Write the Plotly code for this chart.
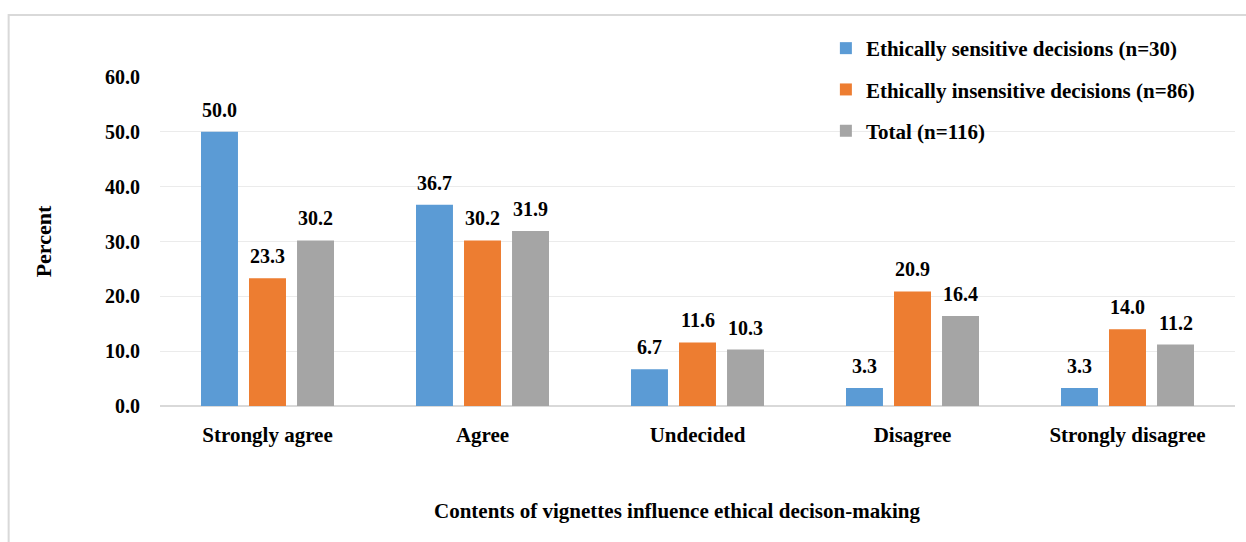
import plotly.graph_objects as go

# Survey response categories and percentages per group
categories = ["Strongly agree", "Agree", "Undecided", "Disagree", "Strongly disagree"]
sensitive = [50.0, 36.7, 6.7, 3.3, 3.3]
insensitive = [23.3, 30.2, 11.6, 20.9, 14.0]
total = [30.2, 31.9, 10.3, 16.4, 11.2]

series_names = [
    "Ethically sensitive decisions (n=30)",
    "Ethically insensitive decisions (n=86)",
    "Total (n=116)",
]
series_values = [sensitive, insensitive, total]
series_colors = ["#5b9bd5", "#ed7d31", "#a5a5a5"]

FONT = "Liberation Serif, Times New Roman, serif"
NUM_SIZE = 20
TXT_SIZE = 21

W, H = 1246, 542
L, R, T, B = 159.5, 10.5, 77, 136
pw, ph = W - L - R, H - T - B

BARGAP = 0.33
GROUPGAP = 0.23

fig = go.Figure()
for name, vals, col in zip(series_names, series_values, series_colors):
    fig.add_trace(go.Bar(
        x=categories,
        y=vals,
        name=f"<b>{name}</b>",
        legendgroup=name,
        marker=dict(color=col, line=dict(width=0)),
    ))

# Value labels above each bar, offset to the bar's slot within the group
cat_px = pw / len(categories)
slot_px = cat_px * (1 - BARGAP) / len(series_values)
for si, vals in enumerate(series_values):
    shift = (si - (len(series_values) - 1) / 2) * slot_px
    for cat, v in zip(categories, vals):
        fig.add_annotation(
            x=cat, y=v, xref="x", yref="y",
            text=f"<b>{v:.1f}</b>",
            showarrow=False,
            xanchor="center", yanchor="bottom",
            xshift=shift, yshift=9,
            font=dict(family=FONT, size=NUM_SIZE, color="black"),
        )

def px_x(x):
    return (x - L) / pw

def px_y(y):
    return (H - B - y) / ph

# Outer light-grey frame (left and top edges)
fig.add_shape(
    type="path",
    xref="paper", yref="paper",
    path=f"M {px_x(8)},{px_y(560)} L {px_x(8)},{px_y(15)} L {px_x(1260)},{px_y(15)}",
    line=dict(color="#d9d9d9", width=2),
    layer="below",
)

# Horizontal axis title, centred on the whole chart area
fig.add_annotation(
    x=px_x(676.5), y=px_y(511),
    xref="paper", yref="paper",
    text="<b>Contents of vignettes influence ethical decison-making</b>",
    showarrow=False,
    xanchor="center", yanchor="middle",
    font=dict(family=FONT, size=TXT_SIZE, color="black"),
)

fig.update_layout(
    width=W, height=H,
    margin=dict(l=L, r=R, t=T, b=B, autoexpand=False),
    paper_bgcolor="white",
    plot_bgcolor="white",
    barmode="group",
    bargap=BARGAP,
    bargroupgap=GROUPGAP,
    font=dict(family=FONT, size=TXT_SIZE, color="black"),
    showlegend=True,
    legend=dict(
        x=px_x(826), y=px_y(28),
        xanchor="left", yanchor="top",
        bgcolor="rgba(0,0,0,0)",
        font=dict(family=FONT, size=TXT_SIZE, color="black"),
        traceorder="grouped",
        tracegroupgap=11,
    ),
    xaxis=dict(
        showgrid=False,
        showline=False,
        ticks="",
        tickfont=dict(family=FONT, size=TXT_SIZE, color="black"),
        tickprefix="<b>", ticksuffix="</b>",
        ticklabelstandoff=14,
    ),
    yaxis=dict(
        range=[0, 60],
        dtick=10,
        tickformat=".1f",
        tickprefix="<b>", ticksuffix="</b>",
        tickfont=dict(family=FONT, size=NUM_SIZE, color="black"),
        showgrid=True,
        gridcolor="#ebebeb",
        gridwidth=1,
        zeroline=True,
        zerolinecolor="#d9d9d9",
        zerolinewidth=1.5,
        ticks="",
        ticklabelstandoff=19,
        title=dict(
            text="<b>Percent</b>",
            font=dict(family=FONT, size=22, color="black"),
            standoff=47,
        ),
    ),
)

fig.write_html("out.html")
